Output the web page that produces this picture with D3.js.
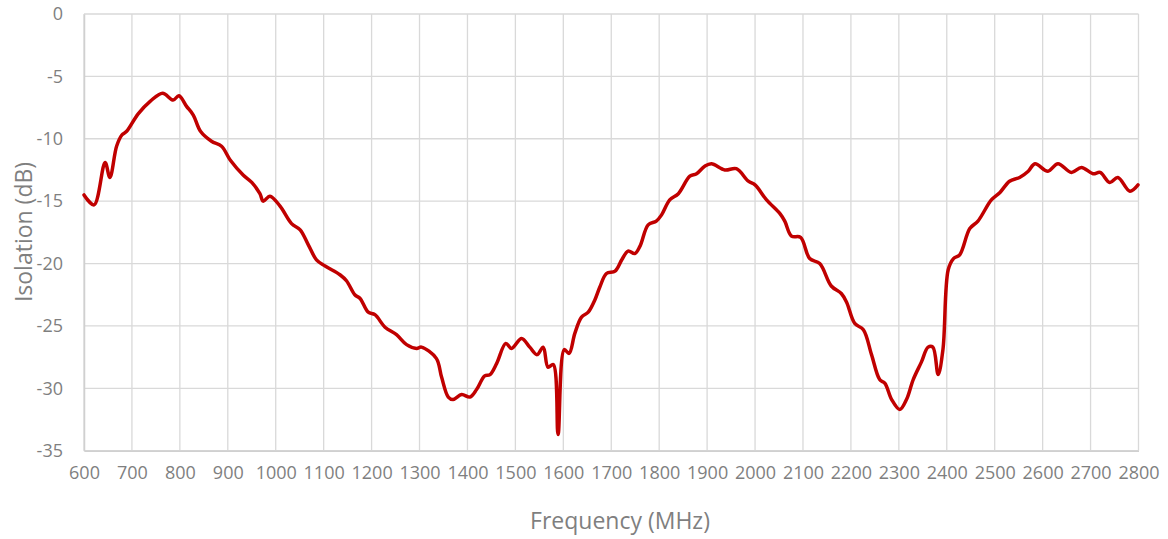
<!DOCTYPE html>
<html><head><meta charset="utf-8">
<script src="https://cdn.jsdelivr.net/npm/d3@7"></script>
<style>body{margin:0;background:#fff}svg{display:block}text{font-family:"Open Sans",sans-serif;fill:#7f7f7f}</style>
</head><body><svg id="c" width="1168" height="539"></svg>
<script>
const freq = [600,621,644,654,668,679,689,713,738,764,786,798,814,828,843,866,887,905,932,950,967,974,988,1009,1033,1051,1068,1085,1103,1134,1148,1165,1176,1193,1207,1228,1252,1273,1294,1304,1335,1346,1360,1370,1388,1405,1419,1436,1447,1461,1480,1492,1513,1530,1545,1558,1568,1579,1589,1602,1612,1624,1638,1652,1666,1676,1690,1708,1722,1735,1749,1760,1777,1794,1805,1822,1840,1864,1878,1895,1909,1937,1961,1986,2000,2024,2052,2062,2076,2095,2114,2135,2159,2180,2191,2208,2226,2243,2260,2271,2285,2302,2316,2330,2347,2361,2371,2382,2392,2403,2414,2427,2448,2465,2493,2511,2531,2552,2570,2584,2611,2632,2660,2681,2705,2720,2740,2757,2782,2799];
const isolation = [-14.5,-15.3,-11.9,-13.1,-10.6,-9.7,-9.4,-8.0,-7.0,-6.35,-6.9,-6.55,-7.4,-8.1,-9.4,-10.2,-10.6,-11.7,-12.9,-13.5,-14.4,-15.0,-14.6,-15.4,-16.8,-17.3,-18.5,-19.7,-20.2,-20.9,-21.4,-22.5,-22.8,-23.9,-24.1,-25.1,-25.7,-26.5,-26.8,-26.7,-27.6,-29.1,-30.7,-30.9,-30.5,-30.7,-30.1,-29.0,-28.9,-28.0,-26.4,-26.8,-26.0,-26.7,-27.3,-26.7,-28.3,-28.1,-33.7,-26.9,-27.2,-25.6,-24.3,-23.9,-22.9,-21.9,-20.8,-20.6,-19.7,-19.0,-19.2,-18.6,-16.9,-16.6,-16.1,-14.9,-14.4,-13.0,-12.8,-12.2,-12.0,-12.5,-12.4,-13.4,-13.7,-14.9,-16.0,-16.6,-17.8,-17.9,-19.6,-20.0,-21.8,-22.4,-23.1,-24.8,-25.3,-27.3,-29.3,-29.6,-30.9,-31.7,-30.9,-29.3,-27.9,-26.7,-26.7,-28.9,-26.9,-20.5,-19.6,-19.3,-17.2,-16.6,-14.9,-14.3,-13.4,-13.1,-12.6,-12.0,-12.6,-12.0,-12.7,-12.3,-12.8,-12.7,-13.5,-13.1,-14.2,-13.7];
const xTicks = d3.range(600, 2801, 100);
const yTicks = [0,-5,-10,-15,-20,-25,-30,-35];
const xTitle = "Frequency (MHz)";
const yTitle = "Isolation (dB)";

const svg = d3.select("#c");
const L = 84, R = 1138.5, T = 14, B = 450.7;
const x = d3.scaleLinear().domain([600,2800]).range([L,R]);
const y = d3.scaleLinear().domain([-35,0]).range([B,T]);

const grid = svg.append("g");
grid.selectAll("line.v").data(xTicks).join("line")
  .attr("x1",d=>x(d)).attr("x2",d=>x(d)).attr("y1",T).attr("y2",B)
  .attr("stroke","#d9d9d9").attr("stroke-width",1.3);
grid.selectAll("line.h").data(yTicks).join("line")
  .attr("x1",L).attr("x2",R).attr("y1",d=>y(d)).attr("y2",d=>y(d))
  .attr("stroke","#d9d9d9").attr("stroke-width",1.3);

const xAxis = svg.append("g").attr("transform",`translate(0,${B})`)
  .call(d3.axisBottom(x).tickValues(xTicks).tickSize(0).tickPadding(16).tickFormat(d3.format("d")));
xAxis.select(".domain").attr("stroke","#d0d0d0").attr("stroke-width",1.5);
xAxis.selectAll("text").attr("font-size",18).style("fill","#7f7f7f").attr("font-family","Open Sans");

const yAxis = svg.append("g").attr("transform",`translate(${L},0)`)
  .call(d3.axisLeft(y).tickValues(yTicks).tickSize(0).tickPadding(21).tickFormat(d=>d===0?"0":String(d)));
yAxis.select(".domain").attr("stroke","#d0d0d0").attr("stroke-width",1.5);
yAxis.selectAll("text").attr("font-size",18).style("fill","#7f7f7f").attr("font-family","Open Sans");

const data = freq.map((f,i)=>[f,isolation[i]]);
svg.append("path").datum(data)
  .attr("fill","none").attr("stroke","#c00000").attr("stroke-width",3.5)
  .attr("stroke-linejoin","round").attr("stroke-linecap","round")
  .attr("d", d3.line().x(d=>x(d[0])).y(d=>y(d[1])).curve(d3.curveCatmullRom.alpha(0.5)));

svg.append("text").attr("x",620).attr("y",529).attr("text-anchor","middle")
  .attr("font-size",23).text(xTitle);
svg.append("text").attr("transform",`translate(32,${232}) rotate(-90)`).attr("text-anchor","middle")
  .attr("font-size",23).text(yTitle);
</script></body></html>
